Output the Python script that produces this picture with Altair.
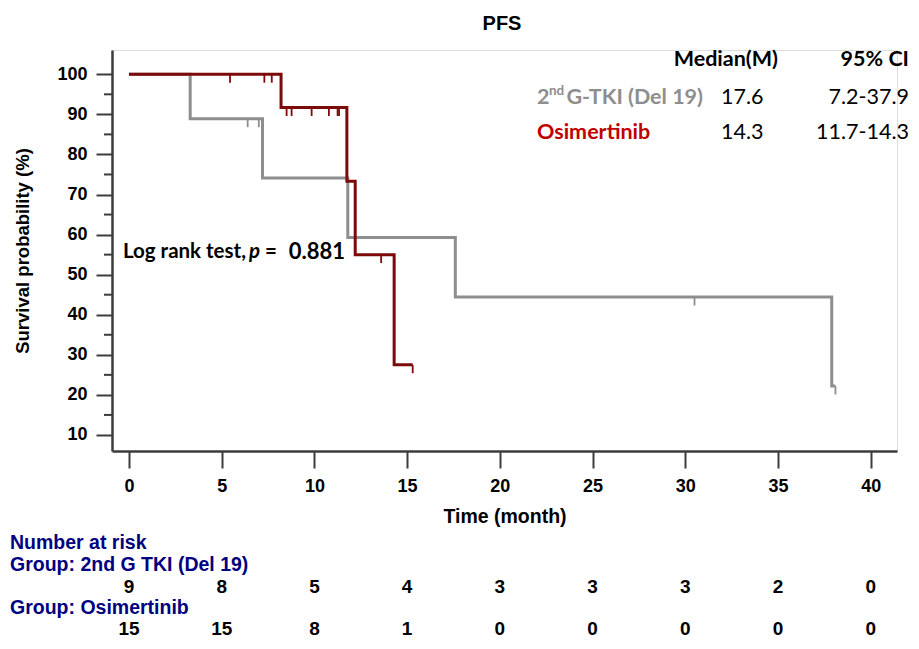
import altair as alt
import pandas as pd

# ---- data ----
gtki_times = [0, 3.3, 7.2, 11.8, 17.6, 37.9, 38.1]
gtki_surv = [100, 88.9, 74.1, 59.3, 44.4, 22.2, 22.2]
gtki_censor_t = [6.4, 7.0, 30.5, 38.1]
gtki_censor_s = [88.9, 88.9, 44.4, 22.2]

osi_times = [0, 8.2, 11.75, 12.2, 14.3, 15.3]
osi_surv = [100, 91.7, 73.3, 55.0, 27.5, 27.5]
osi_censor_t = [5.45, 7.3, 7.7, 8.5, 8.77, 9.85, 10.78, 11.25, 11.33, 13.6, 15.3]
osi_censor_s = [100, 100, 100, 91.7, 91.7, 91.7, 91.7, 91.7, 91.7, 55.0, 27.5]

risk_times = [0, 5, 10, 15, 20, 25, 30, 35, 40]
risk_gtki = [9, 8, 5, 4, 3, 3, 3, 2, 0]
risk_osi = [15, 15, 8, 1, 0, 0, 0, 0, 0]

y_ticks = [10, 20, 30, 40, 50, 60, 70, 80, 90, 100]
y_minor = [15, 25, 35, 45, 55, 65, 75, 85, 95]
x_ticks = [0, 5, 10, 15, 20, 25, 30, 35, 40]

GRAY = "#8e8e8e"
RED = "#7d0a0a"
AXC = "#3c3c3c"
NAVY = "#000080"
FONT = "Liberation Sans, Arial, sans-serif"
CAL = "Lato, Open Sans, sans-serif"

xs = alt.Scale(domain=[-0.917, 41.42], nice=False, zero=False)
ys = alt.Scale(domain=[6.0, 106.06], nice=False, zero=False)

gt = pd.DataFrame({"t": gtki_times, "s": gtki_surv})
ot = pd.DataFrame({"t": osi_times, "s": osi_surv})
gc = pd.DataFrame({"t": gtki_censor_t, "s": gtki_censor_s})
oc = pd.DataFrame({"t": osi_censor_t, "s": osi_censor_s})

xenc = alt.X("t:Q", scale=xs,
             axis=alt.Axis(values=x_ticks, title="Time (month)", grid=False,
                           tickSize=17, tickWidth=2, tickColor=AXC,
                           domainColor=AXC, domainWidth=2.5,
                           labelFont=FONT, labelFontSize=18, labelFontWeight="bold",
                           labelColor="black", labelPadding=9,
                           titleFont=FONT, titleFontSize=19.5, titleFontWeight="bold",
                           titleColor="black", titlePadding=12))
yenc = alt.Y("s:Q", scale=ys,
             axis=alt.Axis(values=y_ticks, title="Survival probability (%)", grid=False,
                           tickSize=16, tickWidth=2, tickColor=AXC,
                           domainColor=AXC, domainWidth=2.5,
                           labelFont=FONT, labelFontSize=18, labelFontWeight="bold",
                           labelColor="black", labelPadding=9,
                           titleFont=FONT, titleFontSize=18.5, titleFontWeight="bold",
                           titleColor="black", titlePadding=24))

gline = alt.Chart(gt).mark_line(interpolate="step-after", color=GRAY, strokeWidth=3).encode(x=xenc, y=yenc)
oline = alt.Chart(ot).mark_line(interpolate="step-after", color=RED, strokeWidth=3).encode(x="t:Q", y="s:Q")

gcens = alt.Chart(gc).transform_calculate(s2="datum.s - 2.1").mark_rule(color=GRAY, strokeWidth=1.8).encode(
    x="t:Q", y="s:Q", y2="s2:Q")
ocens = alt.Chart(oc).transform_calculate(s2="datum.s - 2.1").mark_rule(color=RED, strokeWidth=1.8).encode(
    x="t:Q", y="s:Q", y2="s2:Q")

minor = alt.Chart(pd.DataFrame({"s": y_minor})).mark_rule(color=AXC, strokeWidth=2).encode(
    y="s:Q", x=alt.value(-8), x2=alt.value(0))

one = pd.DataFrame({"a": [0]})


def label(txt, x, y, size=21.5, color="black", align="left", font=CAL, weight="bold", style="normal", baseline="middle"):
    return alt.Chart(one).mark_text(text=txt, align=align, baseline=baseline, font=font, fontSize=size,
                                    fontWeight=weight, fontStyle=style, color=color).encode(
        x=alt.value(x), y=alt.value(y))


RX = 797
texts = [
    label("PFS", 390, -26, size=20, font=FONT, align="center"),
    label("Median(M)", 666, 10, align="right"),
    label("95% CI", RX, 10, align="right"),
    label("2", 425, 48, color=GRAY),
    label("nd", 437, 41, size=13.5, color=GRAY),
    label("G-TKI (Del 19)", 591, 48, color=GRAY, align="right"),
    label("17.6", 609, 48, weight="normal"),
    label("7.2-37.9", RX, 48, weight="normal", align="right"),
    label("Osimertinib", 425, 83, color="#c00000"),
    label("14.3", 609, 83, weight="normal"),
    label("11.7-14.3", RX, 83, weight="normal", align="right"),
    label("Log rank test,", 11, 202, size=20.5),
    label("p", 137, 202, size=20.5, style="italic"),
    label("=", 153, 202, size=20.5),
    label("0.881", 233, 202, size=22, align="right"),
    label("Number at risk", -102, 493, size=19.5, font=FONT, color=NAVY),
    label("Group: 2nd G TKI (Del 19)", -102, 515, size=19.5, font=FONT, color=NAVY),
    label("Group: Osimertinib", -102, 558, size=19.5, font=FONT, color=NAVY),
]

r1 = alt.Chart(pd.DataFrame({"t": risk_times, "n": risk_gtki})).mark_text(
    font=FONT, fontSize=19, fontWeight="bold", color="black", baseline="middle").encode(
    x="t:Q", y=alt.value(537), text="n:Q")
r2 = alt.Chart(pd.DataFrame({"t": risk_times, "n": risk_osi})).mark_text(
    font=FONT, fontSize=19, fontWeight="bold", color="black", baseline="middle").encode(
    x="t:Q", y=alt.value(579), text="n:Q")

chart = alt.layer(gline, oline, gcens, ocens, minor, r1, r2, *texts).properties(
    width=785, height=401,
    autosize=alt.AutoSizeParams(type="none"),
    padding={"left": 104, "top": 42, "right": 14, "bottom": 190},
).configure_view(stroke=None).configure(background="white")

chart.save("out.html", embed_options={"renderer": "svg", "actions": False})
